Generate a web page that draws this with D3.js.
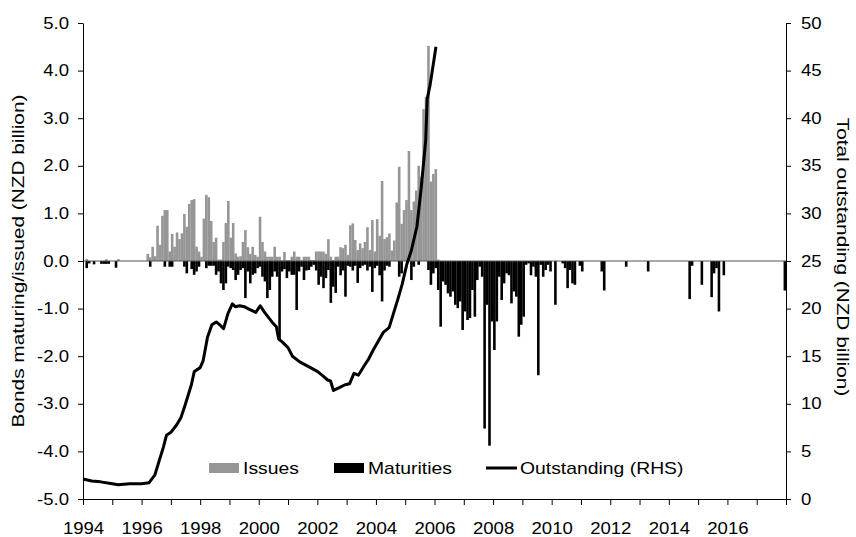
<!DOCTYPE html>
<html>
<head>
<meta charset="utf-8">
<script src="https://cdn.jsdelivr.net/npm/d3@7"></script>
<style>
  html, body { margin: 0; padding: 0; background: #fff; }
  svg { display: block; font-family: "Liberation Sans", Arial, sans-serif; }
</style>
</head>
<body>
<svg id="chart" width="856" height="537"></svg>
<script>
// ---- DATA ----
const startYear = 1994; // monthly series start (Jan 1994)
const issues = [
  0,0.04,0,0,0,0,0,0,0,0.04,0,0,
  0,0,0.04,0,0,0,0,0,0,0,0,0,
  0,0,0.15,0.08,0.3,0.1,0.74,0.34,0.95,1.07,1.07,0.2,
  0.57,0.3,0.6,0.46,0.58,0.99,0.72,1.2,1.28,1.3,0.3,0.2,
  0.09,0.89,1.39,1.34,0.84,0.4,0.49,0.03,0.03,0.4,0.8,1.26,
  0.49,0.8,0.16,0.09,0.1,0.4,0.65,0.29,0.15,0.3,0.13,0.09,
  0.93,0.4,0.2,0.09,0.09,0.09,0.3,0.09,0.09,0.02,0.19,0.02,
  0.02,0.09,0.2,0.09,0.09,0.02,0.09,0.09,0.09,0.02,0.02,0.2,
  0.2,0.2,0.2,0.15,0.46,0.09,0.02,0.09,0.09,0.29,0.27,0.34,
  0.13,0.75,0.79,0.44,0.23,0.37,0.27,0.4,0.71,0.23,0.86,0.2,
  0.88,0.53,1.68,0.46,0.5,0.58,0.22,0.43,1.23,1.98,0.78,1.07,
  1.28,2.31,1.07,1.25,1.48,2.0,1.77,3.19,3.45,4.52,1.67,1.83,
  1.93,0.03
];
const maturities = [
  0,-0.15,-0.05,0,-0.07,0,0,-0.06,-0.06,-0.06,-0.06,0,
  0,-0.14,0,0,0,0,0,0,0,0,0,0,
  0,0,0,-0.12,0,0,0,0,0,-0.12,0,-0.12,
  -0.12,0,0,0,0,-0.12,-0.26,0,-0.17,-0.29,-0.22,-0.12,
  0,0,-0.15,-0.1,-0.1,-0.1,-0.29,-0.22,-0.47,-0.61,-0.47,-0.12,
  -0.15,-0.19,-0.4,-0.29,-0.19,-0.15,-0.78,-0.22,-0.47,-0.29,-0.26,-0.15,
  -0.12,-0.33,-0.43,-0.78,-0.61,-0.33,-0.22,-0.33,-1.66,-0.22,-0.17,-0.36,
  -0.22,-0.29,-0.29,-1.03,-0.22,-0.12,-0.4,-0.2,-0.19,-0.12,-0.08,-0.2,
  -0.5,-0.33,-0.57,-0.36,-0.19,-0.88,-0.54,-0.67,-0.12,-0.3,-0.2,-0.75,
  -0.1,-0.12,-0.2,-0.1,-0.46,-0.15,-0.1,-0.08,-0.2,-0.12,-0.65,-0.15,
  -0.1,-0.3,-0.85,-0.2,-0.1,-0.12,0,0,0,-0.33,-0.26,0,
  0,0,-0.4,-0.12,0,-0.08,0,0,0,-0.19,-0.5,-0.26,
  -0.15,-0.61,-1.38,-0.43,-0.5,-0.68,-0.75,-0.64,-0.92,-0.99,-0.85,-1.45,
  -1.06,-1.24,-1.2,-0.61,-1.17,-0.4,-0.12,-0.33,-3.52,-0.92,-3.88,-1.27,
  -1.87,-1.27,-0.33,-0.82,-0.47,-0.26,-0.3,-0.89,-0.64,-0.75,-1.59,-1.34,
  -1.17,-0.08,-0.05,-0.3,-0.12,-0.33,-2.4,-0.08,-0.33,-0.19,-0.08,-0.22,
  0,-0.92,0,0,-0.05,-0.15,-0.57,-0.19,-0.47,-0.5,0,-0.1,
  -0.22,0,0,0,0,0,0,0,-0.22,-0.62,0,0,
  0,0,0,0,0,0,-0.12,0,0,0,0,0,
  0,0,0,-0.22,0,0,0,0,0,0,0,0,
  0,0,0,0,0,0,0,0,-0.8,-0.1,0,0,
  0,-0.5,0,0,0,-0.76,-0.26,-0.15,-1.06,0,-0.3,0,
  0,0,0,0,0,0,0,0,0,0,0,0,
  0,0,0,0,0,0,0,0,0,0,0,-0.62
];
const outYears = [
  1994.0,1994.3,1994.6,1995.0,1995.2,1995.6,1996.0,1996.25,1996.45,1996.6,
  1996.75,1996.85,1997.0,1997.2,1997.35,1997.5,1997.7,1997.8,1998.0,1998.1,
  1998.25,1998.4,1998.55,1998.7,1998.8,1998.95,1999.1,1999.2,1999.35,1999.5,
  1999.7,1999.9,2000.05,2000.2,2000.45,2000.6,2000.68,2000.8,2001.0,2001.15,
  2001.4,2001.7,2002.0,2002.2,2002.35,2002.45,2002.55,2002.75,2002.95,2003.1,
  2003.25,2003.4,2003.6,2003.75,2003.9,2004.05,2004.25,2004.45,2004.6,2004.75,
  2004.9,2005.05,2005.2,2005.4,2005.55,2005.7,2005.75,2005.85,2006.05
];
const outValues = [
  2.1,1.9,1.8,1.6,1.5,1.6,1.6,1.7,2.5,4.0,
  5.5,6.7,7.0,7.8,8.6,10.0,12.0,13.4,13.8,14.5,
  17.0,18.3,18.6,18.2,17.9,19.5,20.5,20.2,20.3,20.2,
  19.9,19.6,20.3,19.6,18.6,18.1,16.8,16.5,15.9,15.0,
  14.4,13.9,13.4,12.9,12.5,12.4,11.4,11.7,12.0,12.1,
  13.2,13.0,14.0,14.7,15.6,16.4,17.5,18.0,19.5,21.0,
  22.6,24.6,26.0,28.6,32.8,37.7,42.0,43.5,47.5
];
const leftTicks = [-5,-4,-3,-2,-1,0,1,2,3,4,5];
const rightTicks = [0,5,10,15,20,25,30,35,40,45,50];
const yearTicks = d3.range(1994, 2019);
const yearLabels = [1994,1996,1998,2000,2002,2004,2006,2008,2010,2012,2014,2016];
const seriesNames = ["Issues", "Maturities", "Outstanding (RHS)"];
const colors = { issues: "#969696", maturities: "#000000", line: "#000000" };

// ---- CHART ----
const svg = d3.select("#chart");
const x = d3.scaleLinear().domain([1994, 2018]).range([83, 786]);
const yL = d3.scaleLinear().domain([-5, 5]).range([499, 23]);
const yR = d3.scaleLinear().domain([0, 50]).range([499, 23]);
const monthDate = i => startYear + i / 12;
const fontSize = "16px";
const tickStretch = 1.16, legendStretch = 1.21, titleStretch = 1.3;

// bars
svg.append("g").selectAll("rect").data(issues).join("rect")
  .attr("x", (d, i) => x(monthDate(i)))
  .attr("width", (d, i) => x(monthDate(i + 1)) - x(monthDate(i)) + 0.15)
  .attr("y", d => yL(Math.max(0, d)))
  .attr("height", d => Math.abs(yL(d) - yL(0)))
  .attr("fill", colors.issues);

svg.append("g").selectAll("rect").data(maturities).join("rect")
  .attr("x", (d, i) => x(monthDate(i)))
  .attr("width", (d, i) => x(monthDate(i + 1)) - x(monthDate(i)) + 0.15)
  .attr("y", d => yL(Math.max(0, d)))
  .attr("height", d => Math.abs(yL(d) - yL(0)))
  .attr("fill", colors.maturities);

// zero line
svg.append("line")
  .attr("x1", x(1994)).attr("x2", x(2018))
  .attr("y1", yL(0)).attr("y2", yL(0))
  .attr("stroke", "#555").attr("stroke-width", 1);

// outstanding line
const lineData = outYears.map((t, i) => [t, outValues[i]]);
svg.append("path")
  .datum(lineData)
  .attr("fill", "none")
  .attr("stroke", colors.line)
  .attr("stroke-width", 3)
  .attr("stroke-linejoin", "round")
  .attr("d", d3.line().x(d => x(d[0])).y(d => yR(d[1])));

// axes
const gL = svg.append("g").attr("transform", `translate(${x(1994)},0)`)
  .call(d3.axisLeft(yL).tickValues(leftTicks).tickFormat(d => d.toFixed(1))
    .tickSize(5).tickSizeOuter(0).tickPadding(9));
const gR = svg.append("g").attr("transform", `translate(${x(2018)},0)`)
  .call(d3.axisRight(yR).tickValues(rightTicks).tickFormat(d => String(d))
    .tickSize(5).tickSizeOuter(0).tickPadding(10));
const gB = svg.append("g").attr("transform", `translate(0,${yL(-5)})`)
  .call(d3.axisBottom(x).tickValues(yearTicks)
    .tickFormat(d => yearLabels.includes(d) ? String(d) : "")
    .tickSize(6).tickSizeOuter(0).tickPadding(18));
[gL, gR, gB].forEach(g => {
  g.selectAll("text").attr("font-size", fontSize)
    .attr("font-family", '"Liberation Sans", Arial, sans-serif').attr("fill", "#000")
    .each(function () {
      const t = d3.select(this);
      const tx = +t.attr("x") || 0, ty = +t.attr("y") || 0;
      t.attr("x", 0).attr("y", 0)
        .attr("transform", `translate(${tx},${ty}) scale(${tickStretch},1)`);
    });
  g.selectAll("line, path").attr("stroke", "#000");
});

// axis titles
svg.append("text")
  .attr("transform", `translate(18,261) rotate(-90) scale(${titleStretch},1)`)
  .attr("text-anchor", "middle").attr("dominant-baseline", "central")
  .attr("font-size", fontSize)
  .text("Bonds maturing/issued (NZD billion)");
svg.append("text")
  .attr("transform", `translate(843,257) rotate(90) scale(${titleStretch},1)`)
  .attr("text-anchor", "middle").attr("dominant-baseline", "central")
  .attr("font-size", fontSize)
  .text("Total outstanding (NZD billion)");

// legend
const leg = svg.append("g");
const legText = (tx, ty, s) => leg.append("text")
  .attr("transform", `translate(${tx},${ty}) scale(${legendStretch},1)`)
  .attr("font-size", fontSize).text(s);
leg.append("rect").attr("x", 209).attr("y", 463).attr("width", 30).attr("height", 10).attr("fill", colors.issues);
legText(243, 474, seriesNames[0]);
leg.append("rect").attr("x", 334).attr("y", 463).attr("width", 30).attr("height", 10).attr("fill", colors.maturities);
legText(368, 474, seriesNames[1]);
leg.append("line").attr("x1", 486).attr("x2", 517).attr("y1", 468).attr("y2", 468)
  .attr("stroke", colors.line).attr("stroke-width", 3);
legText(520, 474, seriesNames[2]);
</script>
</body>
</html>
